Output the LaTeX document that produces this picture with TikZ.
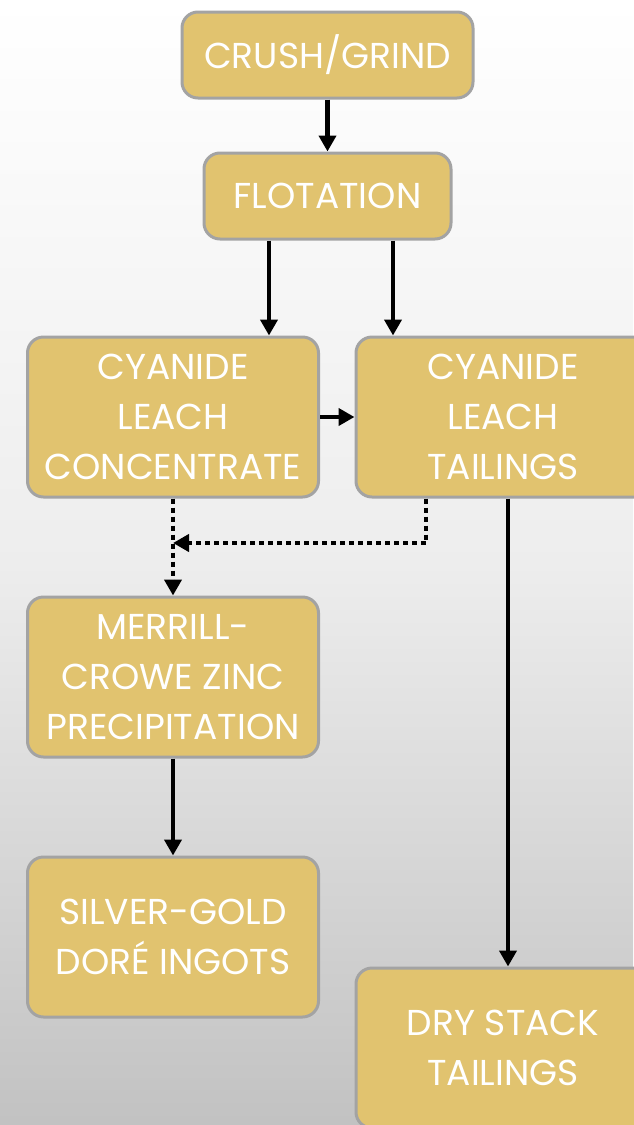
\documentclass[tikz,border=0pt]{standalone}
\usepackage{fontspec}
\setmainfont{Poppins}
\usetikzlibrary{positioning,arrows.meta}

\definecolor{gold}{HTML}{E1C36F}
\definecolor{rim}{HTML}{A3A3A3}

\begin{document}
\begin{tikzpicture}[x=1pt, y=-1pt, node distance=100pt, on grid,
    box/.style={rectangle, rounded corners=16pt, draw=rim, line width=3pt,
        fill=gold, text=white, align=center, inner sep=0pt,
        font=\fontsize{36}{50}\selectfont},
    small/.style={box, minimum width=291pt, minimum height=86pt},
    big/.style={box, minimum width=291pt, minimum height=160pt},
    flow/.style={line width=4.5pt, -{Triangle[length=16pt,width=17pt]}},
    dots/.style={flow, dash pattern=on 5pt off 4pt}]
    \useasboundingbox (0,0) rectangle (633,1125);
    \shade[top color=white, bottom color=black!24, middle color=black!7] (0,0) rectangle (633,1125);

    \node[small] (crush) at (327.5,55) {CRUSH/GRIND};
    \node[small, minimum width=247pt, below=141pt of crush] (flot) {FLOTATION};
    \node[big] (conc) at (173,417) {CYANIDE\\LEACH\\CONCENTRATE};
    \node[big, minimum width=294pt, right=330pt of conc] (tail) {CYANIDE\\LEACH\\TAILINGS};
    \node[big, below=260pt of conc] (mc) {MERRILL-\\CROWE ZINC\\PRECIPITATION};
    \node[big, below=260pt of mc] (dore) {SILVER-GOLD\\DORÉ INGOTS};
    \node[big, minimum width=294pt, below=631pt of tail] (dry) {DRY STACK\\TAILINGS};

    \coordinate (turn) at (426,543);

    \draw[flow] (crush) -- (flot);
    \draw[flow] (flot.south -| 269,0) -- (conc.north -| 269,0);
    \draw[flow] (flot.south -| 393,0) -- (tail.north -| 393,0);
    \draw[flow] (conc) -- (tail);
    \draw[flow] (tail.south -| 508,0) -- (dry.north -| 508,0);
    \draw[dots] (conc) -- (mc);
    \draw[dots] (tail.south -| turn) -- (turn) -- (turn -| conc);
    \draw[flow] (mc) -- (dore);
\end{tikzpicture}
\end{document}
